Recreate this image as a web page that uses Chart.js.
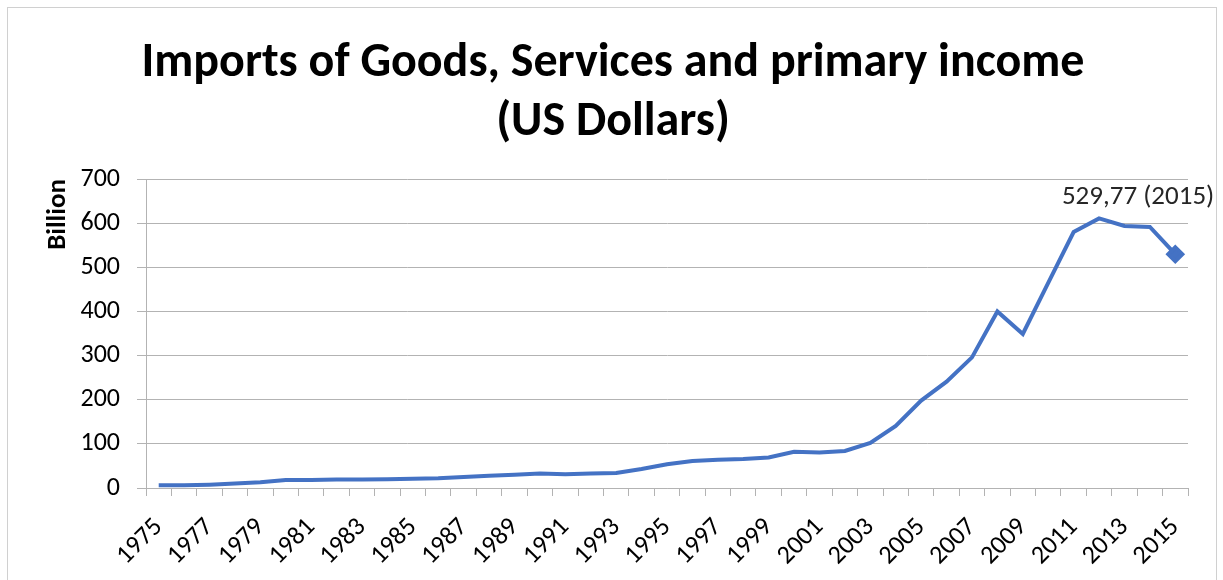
<!DOCTYPE html>
<html>
<head>
<meta charset="utf-8">
<script src="https://cdn.jsdelivr.net/npm/chart.js@4/dist/chart.umd.min.js"></script>
<style>
    html, body { margin: 0; padding: 0; background: #fff; }
    #frame {
        position: absolute; left: 7px; top: 7px;
        width: 1210px; height: 600px;
        border: 1px solid #d0d0d0; box-sizing: border-box;
    }
    #importsChart { display: block; }
</style>
</head>
<body>
<div id="frame"><canvas id="importsChart" width="1208" height="571"></canvas></div>
<script>
/**
 * Imports of goods, services and primary income, 1975-2015
 */

const years = [];
for (let y = 1975; y <= 2015; y++) years.push(String(y));

// Billion US dollars
const imports = [
    6, 6, 7.5, 10, 13, 18, 18, 19, 19, 20,
    21, 22, 25, 28, 30, 33, 31, 33, 34, 43,
    54, 61, 64, 65.5, 69, 82, 80.5, 84, 102, 140.5,
    198, 241, 296, 400, 349, 465, 580, 611, 594, 591.5,
    529.77
];

const yTicks = [0, 100, 200, 300, 400, 500, 600, 700];

const lineColor = '#4472C4';
const gridColor = '#b3b3b3';
const bodyFont = 'Carlito, Calibri, Lato, sans-serif';
const lastIdx = imports.length - 1;

// value label for the final year, written Excel-style with a decimal comma
const lastLabelPlugin = {
    id: 'lastLabel',
    afterDatasetsDraw(chart) {
        const pt = chart.getDatasetMeta(0).data[lastIdx];
        if (!pt) return;
        const text = imports[lastIdx].toFixed(2).replace('.', ',') + ' (' + years[lastIdx] + ')';
        const c = chart.ctx;
        c.save();
        c.font = '27px ' + bodyFont;
        c.fillStyle = '#262626';
        c.textAlign = 'right';
        c.textBaseline = 'alphabetic';
        c.fillText(text, pt.x + 39, pt.y - 50);
        c.restore();
    }
};

function initImportsChart() {
    const ctx = document.getElementById('importsChart');
    if (!ctx) return;

    new Chart(ctx.getContext('2d'), {
        type: 'line',
        data: {
            labels: years,
            datasets: [{
                data: imports,
                borderColor: lineColor,
                backgroundColor: lineColor,
                borderWidth: 4,
                tension: 0,
                pointStyle: 'rectRot',
                pointRadius: c => c.dataIndex === lastIdx ? 7 : 0,
                pointHoverRadius: 0
            }]
        },
        options: {
            responsive: false,
            animation: false,
            layout: { padding: { left: 30, right: 28, top: 10, bottom: 0 } },
            plugins: {
                legend: { display: false },
                tooltip: { enabled: false },
                title: {
                    display: true,
                    text: ['Imports of Goods, Services and primary income', '(US Dollars)'],
                    color: '#000',
                    font: { family: bodyFont, size: 48, weight: 'bold', lineHeight: 1.22 },
                    padding: { top: 17, bottom: 27 }
                }
            },
            scales: {
                x: {
                    type: 'category',
                    offset: true,
                    afterFit: s => { s.height = 91; },
                    grid: { display: true, drawOnChartArea: false, offset: true, tickLength: 8, color: gridColor },
                    border: { color: gridColor, width: 1 },
                    ticks: {
                        autoSkip: false,
                        minRotation: 45,
                        maxRotation: 45,
                        padding: 16,
                        color: '#000',
                        font: { family: bodyFont, size: 26 },
                        callback: (v, i) => i % 2 === 0 ? years[i] : ''
                    }
                },
                y: {
                    min: 0,
                    max: 700,
                    afterFit: s => { s.width = 108; },
                    afterBuildTicks: s => { s.ticks = yTicks.map(v => ({ value: v })); },
                    grid: { color: gridColor, tickLength: 9 },
                    border: { color: gridColor, width: 1 },
                    ticks: {
                        color: '#000',
                        padding: 17,
                        font: { family: bodyFont, size: 26 }
                    },
                    title: {
                        display: true,
                        text: 'Billion',
                        align: 'end',
                        color: '#000',
                        font: { family: bodyFont, size: 27, weight: 'bold' },
                        padding: { top: 4, bottom: 0 }
                    }
                }
            }
        },
        plugins: [lastLabelPlugin]
    });
}

initImportsChart();
</script>
</body>
</html>
